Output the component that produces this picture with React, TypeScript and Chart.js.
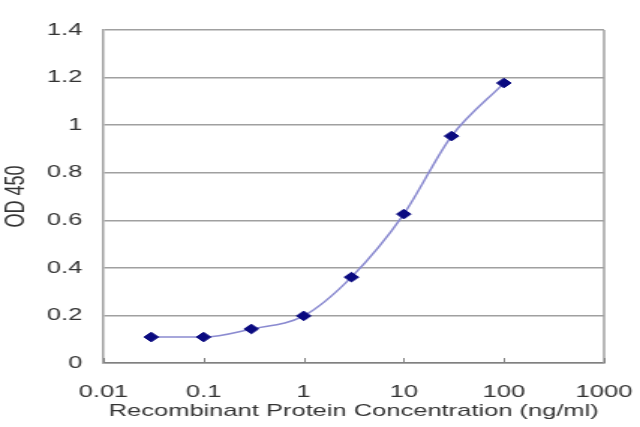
import React, { useEffect, useRef } from "react";
import { Chart, registerables } from "chart.js";

Chart.register(...registerables);

const concentrations = [0.03, 0.1, 0.3, 1, 3, 10, 30, 100];
const od450 = [0.109, 0.109, 0.143, 0.198, 0.361, 0.626, 0.954, 1.177];
const xTicks = [0.01, 0.1, 1, 10, 100, 1000];
const xTickLabels = ["0.01", "0.1", "1", "10", "100", "1000"];
const yTitle = "OD 450";
const xTitle = "Recombinant Protein Concentration (ng/ml)";

const FONT = "'Liberation Sans', Arial, sans-serif";
const TEXT = "#333333";

// The reference picture is stretched horizontally; the chart is drawn on a
// narrower canvas and displayed at the full 640px width.
const CANVAS_W = 427;
const CANVAS_H = 427;

const borderPlugin = {
  id: "plotBorder",
  afterDraw(chart: any) {
    const { ctx, chartArea } = chart;
    const xs = chart.scales.x;
    ctx.save();
    ctx.strokeStyle = "#a0a0a0";
    ctx.lineWidth = 1.5;
    ctx.beginPath();
    ctx.moveTo(chartArea.right, chartArea.top);
    ctx.lineTo(chartArea.right, chartArea.bottom);
    ctx.stroke();
    // small inside tick marks on the x axis
    ctx.strokeStyle = "#808080";
    ctx.lineWidth = 1;
    ctx.beginPath();
    xTicks.forEach((v) => {
      const px = Math.round(xs.getPixelForValue(v)) + 0.5;
      ctx.moveTo(px, chartArea.bottom);
      ctx.lineTo(px, chartArea.bottom - 5);
    });
    ctx.stroke();
    ctx.restore();
  },
};

export default function App() {
  const ref = useRef<HTMLCanvasElement | null>(null);

  useEffect(() => {
    document.body.style.margin = "0";
    const canvas = ref.current;
    if (!canvas) return;
    const chart = new Chart(canvas, {
      type: "line",
      data: {
        datasets: [
          {
            data: concentrations.map((x, i) => ({ x, y: od450[i] })),
            borderColor: "#8a8ad0",
            borderWidth: 1.5,
            cubicInterpolationMode: "monotone",
            pointStyle: "rectRot",
            pointRadius: 4.8,
            pointBackgroundColor: "#0a0a80",
            pointBorderColor: "#0a0a80",
            pointBorderWidth: 1,
          },
        ],
      },
      options: {
        animation: false,
        responsive: false,
        maintainAspectRatio: false,
        devicePixelRatio: 1,
        layout: { padding: { top: 30, right: 24, left: 0, bottom: 0 } },
        plugins: {
          legend: { display: false },
          tooltip: { enabled: false },
        },
        scales: {
          x: {
            type: "logarithmic",
            min: 0.01,
            max: 1000,
            afterBuildTicks: (scale: any) => {
              scale.ticks = xTicks.map((v) => ({ value: v }));
            },
            afterFit: (scale: any) => {
              scale.height = 64;
              scale.paddingLeft = 0;
              scale.paddingRight = 0;
            },
            grid: {
              display: true,
              drawOnChartArea: false,
              drawTicks: false,
              color: "#808080",
            },
            border: { display: true, color: "#808080", width: 1.5 },
            ticks: {
              autoSkip: false,
              maxRotation: 0,
              padding: 19,
              color: TEXT,
              font: { family: FONT, size: 17 },
              callback: (value: any) => {
                const i = xTicks.indexOf(Number(value));
                return i >= 0 ? xTickLabels[i] : "";
              },
            },
            title: {
              display: true,
              text: xTitle,
              color: TEXT,
              font: { family: FONT, size: 17 },
              padding: { top: 0, bottom: 5 },
            },
          },
          y: {
            min: 0,
            max: 1.4,
            afterFit: (scale: any) => {
              scale.width = 69;
            },
            ticks: {
              stepSize: 0.2,
              padding: 14,
              color: TEXT,
              font: { family: FONT, size: 17 },
              callback: (value: any) => String(Math.round(Number(value) * 10) / 10),
            },
            grid: {
              color: "#a0a0a0",
              lineWidth: 1.5,
              drawTicks: false,
            },
            border: { display: true, color: "#a0a0a0", width: 1.5 },
            title: {
              display: true,
              text: yTitle,
              color: TEXT,
              font: { family: FONT, size: 18 },
              padding: { top: 0, bottom: 0 },
            },
          },
        },
      },
      plugins: [borderPlugin],
    });
    return () => chart.destroy();
  }, []);

  return (
    <div style={{ position: "absolute", left: 0, top: 0, width: 640, height: 427, background: "#ffffff" }}>
      <canvas
        ref={ref}
        width={CANVAS_W}
        height={CANVAS_H}
        style={{ display: "block", width: "640px", height: "427px" }}
      />
    </div>
  );
}
